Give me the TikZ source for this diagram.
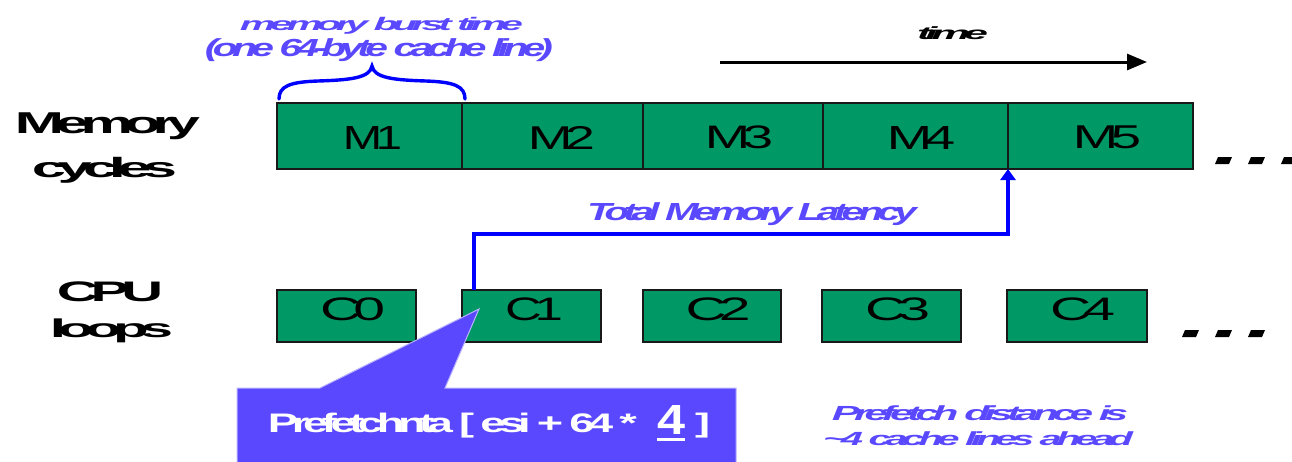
\documentclass[tikz,border=0pt]{standalone}
\usepackage{fontspec}
\setmainfont[LetterSpace=-14]{Liberation Sans}
\usepackage{graphicx}
\usetikzlibrary{arrows.meta}
\XeTeXuseglyphmetrics=1
\definecolor{boxgreen}{RGB}{0,153,102}
\definecolor{txtviolet}{RGB}{90,72,255}
\definecolor{callfill}{RGB}{90,72,255}
\definecolor{callline}{RGB}{185,178,255}
\definecolor{pureblue}{RGB}{0,0,255}
\newcommand\fitText[3]{\resizebox*{#1pt}{#2pt}{#3}}
\begin{document}
\begin{tikzpicture}[x=1pt,y=-1pt,
  cell/.style={draw=black!90,line width=1.3pt,fill=boxgreen,inner sep=0pt,outer sep=0pt},
  membox/.style={cell,minimum height=66pt},
  cpubox/.style={cell,minimum height=52pt},
  txt/.style={inner sep=0pt,outer sep=0pt},
  bluetxt/.style={txt,text=txtviolet,font=\bfseries\itshape},
  boxlabel/.style={txt,text=black},
  rowlabel/.style={txt,text=black,font=\bfseries},
  latency/.style={pureblue,line width=3.6pt,-{Triangle[length=11pt,width=15pt]}},
  timearrow/.style={black,line width=3pt,-{Triangle[length=20pt,width=16pt]}},
  dashmark/.style={fill=black},
  bracestyle/.style={pureblue,line width=3.4pt,line cap=round}
]
\useasboundingbox (0,0) rectangle (1292,461);
\clip (0,0) rectangle (1292,461);

% row labels
\node[rowlabel] (lmem) at (107.5,126.5) {\fitText{185}{27}{Memory}};
\node[rowlabel] (lcyc) at (104.5,170) {\fitText{145}{26}{cycles}};
\node[rowlabel] (lcpu) at (110,292) {\fitText{106}{20}{CPU}};
\node[rowlabel] (lloop) at (111.5,331) {\fitText{123}{24}{loops}};

% memory boxes
\node[membox,minimum width=185pt] (m1) at (369.5,136) {};
\node[membox,minimum width=181pt] (m2) at (552.5,136) {};
\node[membox,minimum width=180pt] (m3) at (733,136) {};
\node[membox,minimum width=185pt] (m4) at (915.5,136) {};
\node[membox,minimum width=185pt] (m5) at (1100.5,136) {};
\node[boxlabel] (tm1) at (372.5,137.5) {\fitText{59}{23}{M1}};
\node[boxlabel] (tm2) at (561.5,137.5) {\fitText{67}{23}{M2}};
\node[boxlabel] (tm3) at (739,137.5) {\fitText{68}{23}{M3}};
\node[boxlabel] (tm4) at (921,137.5) {\fitText{68}{23}{M4}};
\node[boxlabel] (tm5) at (1107,137.5) {\fitText{68}{23}{M5}};

% cpu boxes
\node[cpubox,minimum width=139pt] (c0) at (346.5,316) {};
\node[cpubox,minimum width=139pt] (c1) at (531.5,316) {};
\node[cpubox,minimum width=138pt] (c2) at (712,316) {};
\node[cpubox,minimum width=139pt] (c3) at (891.5,316) {};
\node[cpubox,minimum width=140pt] (c4) at (1077,316) {};
\node[boxlabel] (tc0) at (352.5,309.5) {\fitText{65}{23}{C0}};
\node[boxlabel] (tc1) at (534,309.5) {\fitText{58}{23}{C1}};
\node[boxlabel] (tc2) at (718,309.5) {\fitText{65}{23}{C2}};
\node[boxlabel] (tc3) at (897.5,309.5) {\fitText{65}{23}{C3}};
\node[boxlabel] (tc4) at (1082.5,309.5) {\fitText{65}{23}{C4}};

% brace and its label
\draw[bracestyle] (279,99) .. controls (279,86) and (290,82) .. (318,81)
  .. controls (350,80) and (370,78) .. (372,66)
  .. controls (374,78) and (394,80) .. (426,81)
  .. controls (454,82) and (465,86) .. (465,99);
\node[bluetxt] (burst1) at (381.5,25.5) {\fitText{283}{17}{memory burst time}};
\node[bluetxt] (burst2) at (379,50.5) {\fitText{348}{23}{(one 64-byte cache line)}};

% time arrow
\coordinate (t0) at (720,62);
\coordinate (t1) at (1147,62);
\draw[timearrow] (t0) -- (t1);
\node[txt,font=\bfseries\itshape] (ltime) at (952.5,33.5) {\fitText{71}{13}{time}};

% latency connector
\draw[latency] ([xshift=12pt]c1.north west) -- ++(0,-56) -| (m5.south west);
\node[bluetxt] (llat) at (752,214.5) {\fitText{330}{23}{Total Memory Latency}};

% continuation dashes
\foreach \a in {1215,1248,1281}{
  \fill[dashmark] (\a,164) -- (\a+14,164) -- (\a+17,157) -- (\a+3,157) -- cycle;}
\foreach \a in {1182,1215,1248}{
  \fill[dashmark] (\a,337) -- (\a+14,337) -- (\a+17,330) -- (\a+3,330) -- cycle;}

% callout
\draw[fill=callfill,draw=callline,line width=1pt]
  (237,388) -- (320,388) -- (479,309) -- (445,388) -- (736,388) -- (736,470) -- (237,470) -- cycle;
\node[txt,text=white,font=\bfseries] (cl1) at (452.5,425.5) {\fitText{369}{25}{Prefetchnta [ esi + 64 *}};
\node[txt,text=white,font=\bfseries] (cl4) at (671,419.5) {\fitText{28}{29}{4}};
\draw[white,line width=3pt] (cl4.south west |- 0,439.5) -- (cl4.south east |- 0,439.5);
\node[txt,text=white,font=\bfseries] (clb) at (702.5,425.5) {\fitText{15}{25}{]}};

% note
\node[bluetxt] (note1) at (980,413.5) {\fitText{296}{15}{Prefetch distance is}};
\node[bluetxt] (note2) at (978,438.7) {\fitText{310}{14}{\textasciitilde 4 cache lines ahead}};
\end{tikzpicture}
\end{document}
